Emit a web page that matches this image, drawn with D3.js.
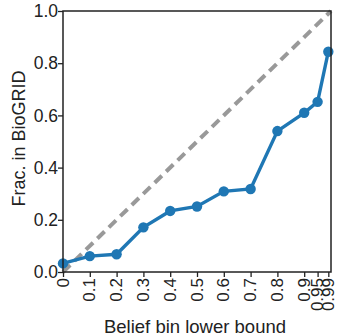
<!DOCTYPE html>
<html>
<head>
<meta charset="utf-8">
<script src="https://d3js.org/d3.v7.min.js"></script>
<style>
  body { margin: 0; background: #fff; }
  text { font-family: "Liberation Sans", Arial, sans-serif; fill: #222; }
</style>
</head>
<body>
<div id="chart"></div>
<script>
// belief bins (lower bound) and fraction found in BioGRID
var bins = [0, 0.1, 0.2, 0.3, 0.4, 0.5, 0.6, 0.7, 0.8, 0.9, 0.95, 0.99];
var frac = [0.033, 0.061, 0.068, 0.171, 0.234, 0.251, 0.309, 0.318, 0.54, 0.61, 0.652, 0.844];
var yTicks = [0, 0.2, 0.4, 0.6, 0.8, 1.0];

var width = 337, height = 336;
var margin = {top: 11, right: 6, bottom: 64, left: 63};
var w = width - margin.left - margin.right;
var h = height - margin.top - margin.bottom;

var svg = d3.select("#chart").append("svg")
    .attr("width", width).attr("height", height)
  .append("g")
    .attr("transform", "translate(" + margin.left + "," + margin.top + ")");

var x = d3.scaleLinear().domain([0, 1]).range([0, w]);
var y = d3.scaleLinear().domain([0, 1]).range([h, 0]);

// diagonal reference
svg.append("line")
    .attr("x1", x(0)).attr("y1", y(0))
    .attr("x2", x(1)).attr("y2", y(1))
    .attr("stroke", "#999")
    .attr("stroke-width", 4)
    .attr("stroke-dasharray", "10,6");

// data line
var line = d3.line().x(function(d, i) { return x(bins[i]); }).y(function(d) { return y(d); });
svg.append("path")
    .datum(frac)
    .attr("d", line)
    .attr("fill", "none")
    .attr("stroke", "#1f77b4")
    .attr("stroke-width", 3.4);

svg.selectAll("circle")
    .data(frac)
  .enter().append("circle")
    .attr("cx", function(d, i) { return x(bins[i]); })
    .attr("cy", function(d) { return y(d); })
    .attr("r", 5.2)
    .attr("fill", "#1f77b4");

// axes
var xAxis = svg.append("g")
    .attr("transform", "translate(0," + h + ")")
    .call(d3.axisBottom(x).tickValues(bins).tickFormat(d3.format("")).tickSize(5).tickSizeOuter(0));
xAxis.selectAll("text")
    .attr("transform", "rotate(-90)")
    .attr("text-anchor", "end")
    .attr("x", -6)
    .attr("y", 0)
    .attr("dy", "0.3em")
    .style("font-size", "17px");

var yAxis = svg.append("g")
    .call(d3.axisLeft(y).tickValues(yTicks).tickFormat(d3.format(".1f")).tickSize(5).tickSizeOuter(0));
yAxis.selectAll("text")
    .attr("x", -5)
    .style("font-size", "17.5px");

svg.selectAll(".domain").remove();
svg.selectAll(".tick line").attr("stroke", "#222").attr("stroke-width", 1.3);

// frame
svg.append("rect")
    .attr("width", w).attr("height", h)
    .attr("fill", "none")
    .attr("stroke", "#222")
    .attr("stroke-width", 1.5);

// titles
svg.append("text")
    .attr("x", w / 2 - 2)
    .attr("y", h + 61)
    .attr("text-anchor", "middle")
    .style("font-size", "18.5px")
    .text("Belief bin lower bound");

svg.append("text")
    .attr("transform", "rotate(-90)")
    .attr("x", -h / 2 + 3)
    .attr("y", -38)
    .attr("text-anchor", "middle")
    .style("font-size", "18px")
    .text("Frac. in BioGRID");
</script>
</body>
</html>
